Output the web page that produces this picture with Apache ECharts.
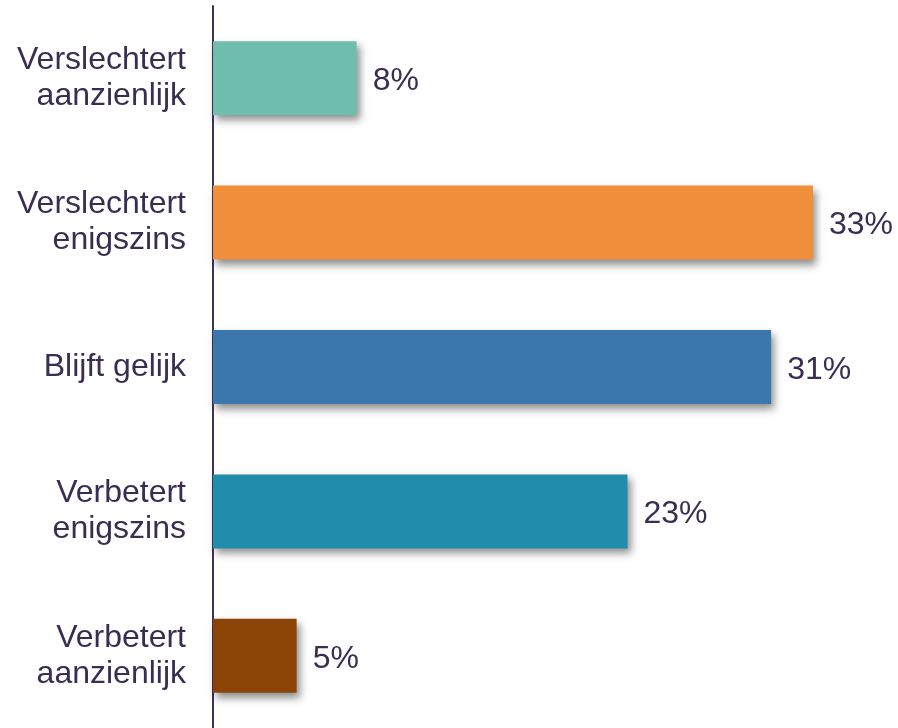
<!DOCTYPE html>
<html>
<head>
<meta charset="utf-8">
<script src="https://cdn.jsdelivr.net/npm/echarts@6/dist/echarts.min.js"></script>
<style>html,body{margin:0;padding:0;background:#fff}#c{width:898px;height:728px}</style>
</head>
<body>
<div id="c"></div>
<script>
const categories = ['Verslechtert\naanzienlijk', 'Verslechtert\nenigszins', 'Blijft gelijk', 'Verbetert\nenigszins', 'Verbetert\naanzienlijk'];
const values = [7.9, 33, 30.7, 22.8, 4.6];
const colors = ['#6FBDAC', '#F08E3B', '#3B76AC', '#1F8DAB', '#8B4406'];
const textColor = '#3B2D52';

const chart = echarts.init(document.getElementById('c'), null, {renderer: 'canvas'});
chart.setOption({
  animation: false,
  grid: {left: 213, top: 6, bottom: 0, width: 654.5},
  xAxis: {type: 'value', min: 0, max: 36, show: false},
  yAxis: {
    type: 'category', inverse: true, data: categories,
    axisLine: {show: true, lineStyle: {color: '#3F3357', width: 2}},
    axisTick: {show: false},
    axisLabel: {margin: 27, color: textColor, fontSize: 32, lineHeight: 36, fontFamily: 'Liberation Sans, Arial, sans-serif', align: 'right'}
  },
  series: [{
    type: 'bar',
    data: values.map((v, i) => ({value: v, itemStyle: {color: colors[i]}})),
    barWidth: 74,
    itemStyle: {shadowColor: 'rgba(0,0,0,0.45)', shadowBlur: 8, shadowOffsetX: 3, shadowOffsetY: 5},
    label: {show: true, position: 'right', distance: 16, offset: [0, 3], color: textColor, fontSize: 32, fontFamily: 'Liberation Sans, Arial, sans-serif',
      formatter: p => Math.round(p.value) + '%'}
  }]
});
</script>
</body>
</html>
